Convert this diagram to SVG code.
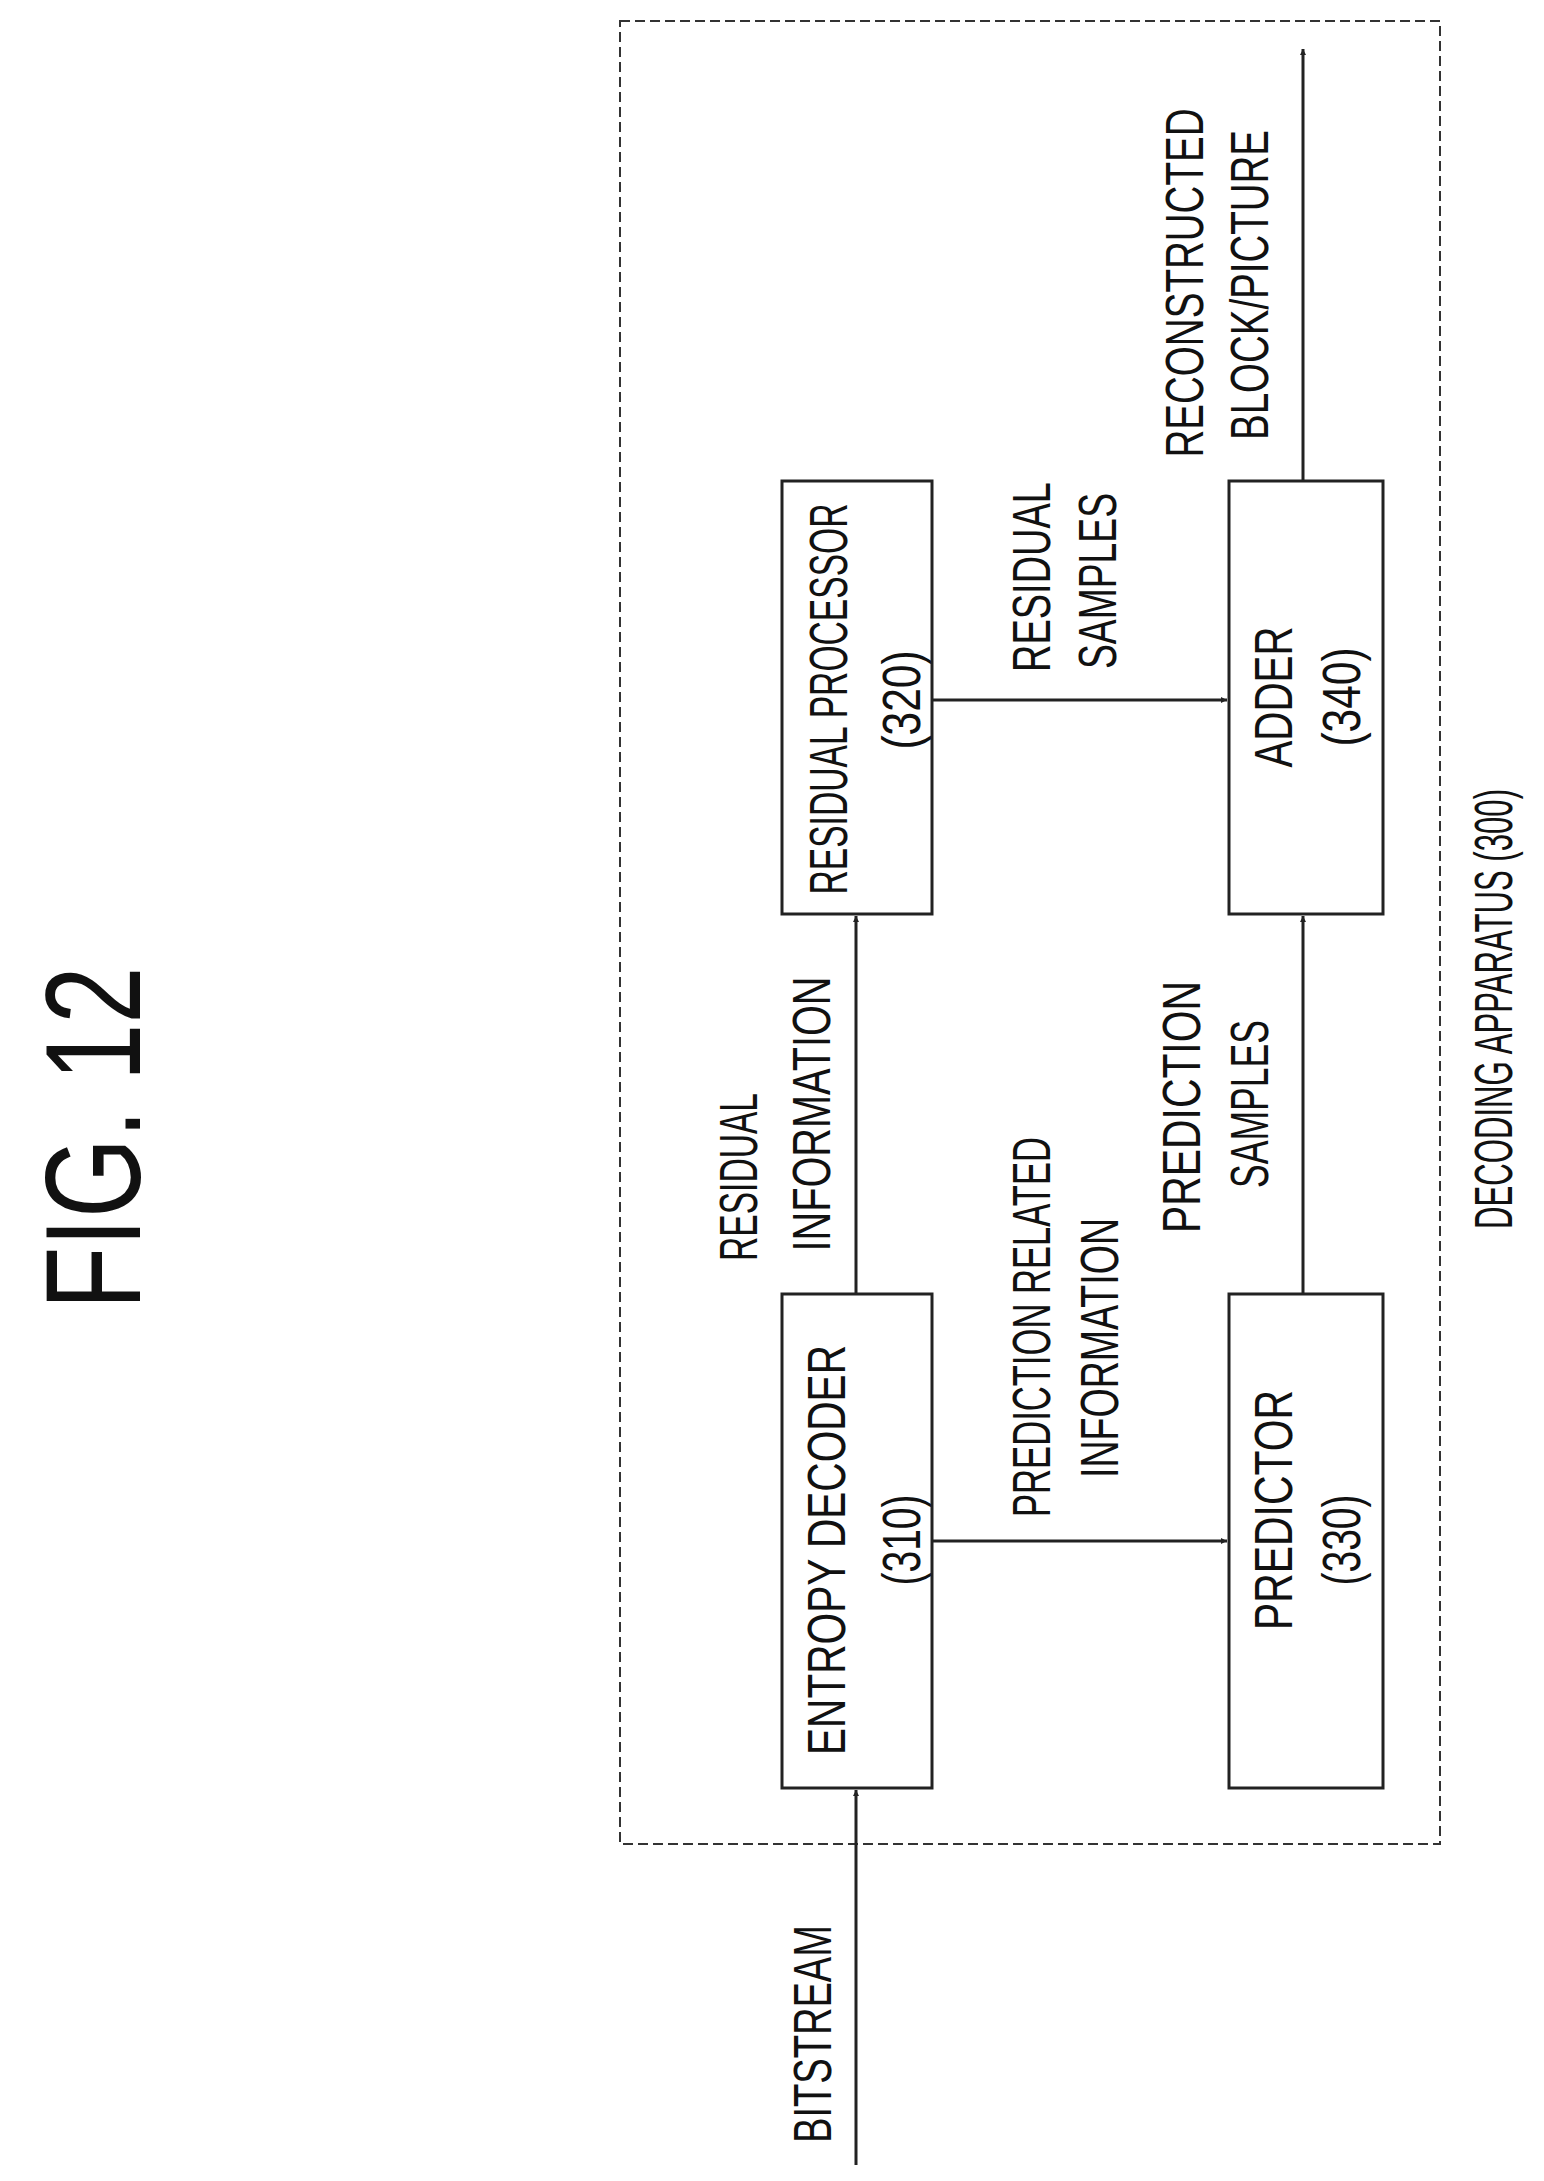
<svg xmlns="http://www.w3.org/2000/svg" width="1544" height="2181" viewBox="0 0 1544 2181">
<style>
text{font-family:"Liberation Sans",Arial,sans-serif;font-size:54px;fill:#111;text-anchor:middle}
.box{fill:none;stroke:#222;stroke-width:3}
.ln{stroke:#222;stroke-width:3;fill:none;marker-end:url(#ah)}
</style>
<defs><marker id="ah" viewBox="0 0 10 10" refX="10" refY="5" markerWidth="6" markerHeight="6" orient="auto" markerUnits="userSpaceOnUse"><path d="M0,0 L10,5 L0,10 z" fill="#222"/></marker></defs>
<text transform="translate(140,1138) rotate(-90)" style="font-size:135px" textLength="343" lengthAdjust="spacingAndGlyphs">FIG. 12</text>
<rect x="620" y="21" width="820" height="1823" fill="none" stroke="#333" stroke-width="2" stroke-dasharray="10,5"/>
<g id="n310"><rect class="box" x="782" y="1294" width="150" height="494"/>
<text transform="translate(845,1550) rotate(-90)" textLength="410" lengthAdjust="spacingAndGlyphs">ENTROPY DECODER</text>
<text transform="translate(920,1540) rotate(-90)" textLength="91" lengthAdjust="spacingAndGlyphs">(310)</text></g>
<g id="n320"><rect class="box" x="782" y="481" width="150" height="433"/>
<text transform="translate(847,699) rotate(-90)" textLength="391" lengthAdjust="spacingAndGlyphs">RESIDUAL PROCESSOR</text>
<text transform="translate(920,700) rotate(-90)" textLength="99" lengthAdjust="spacingAndGlyphs">(320)</text></g>
<g id="n330"><rect class="box" x="1229" y="1294" width="154" height="494"/>
<text transform="translate(1292,1510) rotate(-90)" textLength="240" lengthAdjust="spacingAndGlyphs">PREDICTOR</text>
<text transform="translate(1360,1540) rotate(-90)" textLength="91" lengthAdjust="spacingAndGlyphs">(330)</text></g>
<g id="n340"><rect class="box" x="1229" y="481" width="154" height="433"/>
<text transform="translate(1292,697) rotate(-90)" textLength="141" lengthAdjust="spacingAndGlyphs">ADDER</text>
<text transform="translate(1360,697) rotate(-90)" textLength="99" lengthAdjust="spacingAndGlyphs">(340)</text></g>
<g id="connectors">
<line class="ln" x1="856" y1="2165" x2="856" y2="1790"/>
<line class="ln" x1="856" y1="1294" x2="856" y2="916"/>
<line class="ln" x1="932" y1="1541" x2="1227" y2="1541"/>
<line class="ln" x1="932" y1="700" x2="1227" y2="700"/>
<line class="ln" x1="1303" y1="1294" x2="1303" y2="916"/>
<line class="ln" x1="1303" y1="481" x2="1303" y2="49"/>
</g>
<g id="labels">
<text transform="translate(831,2034) rotate(-90)" textLength="218" lengthAdjust="spacingAndGlyphs">BITSTREAM</text>
<text transform="translate(757,1177) rotate(-90)" textLength="168" lengthAdjust="spacingAndGlyphs">RESIDUAL</text>
<text transform="translate(830,1114) rotate(-90)" textLength="275" lengthAdjust="spacingAndGlyphs">INFORMATION</text>
<text transform="translate(1050,1327) rotate(-90)" textLength="380" lengthAdjust="spacingAndGlyphs">PREDICTION RELATED</text>
<text transform="translate(1118,1348) rotate(-90)" textLength="260" lengthAdjust="spacingAndGlyphs">INFORMATION</text>
<text transform="translate(1200,1107) rotate(-90)" textLength="252" lengthAdjust="spacingAndGlyphs">PREDICTION</text>
<text transform="translate(1268,1104) rotate(-90)" textLength="168" lengthAdjust="spacingAndGlyphs">SAMPLES</text>
<text transform="translate(1050,577) rotate(-90)" textLength="190" lengthAdjust="spacingAndGlyphs">RESIDUAL</text>
<text transform="translate(1116,581) rotate(-90)" textLength="176" lengthAdjust="spacingAndGlyphs">SAMPLES</text>
<text transform="translate(1203,283) rotate(-90)" textLength="349" lengthAdjust="spacingAndGlyphs">RECONSTRUCTED</text>
<text transform="translate(1268,285) rotate(-90)" textLength="310" lengthAdjust="spacingAndGlyphs">BLOCK/PICTURE</text>
<text transform="translate(1512,1009) rotate(-90)" textLength="440" lengthAdjust="spacingAndGlyphs">DECODING APPARATUS (300)</text>
</g>
</svg>
